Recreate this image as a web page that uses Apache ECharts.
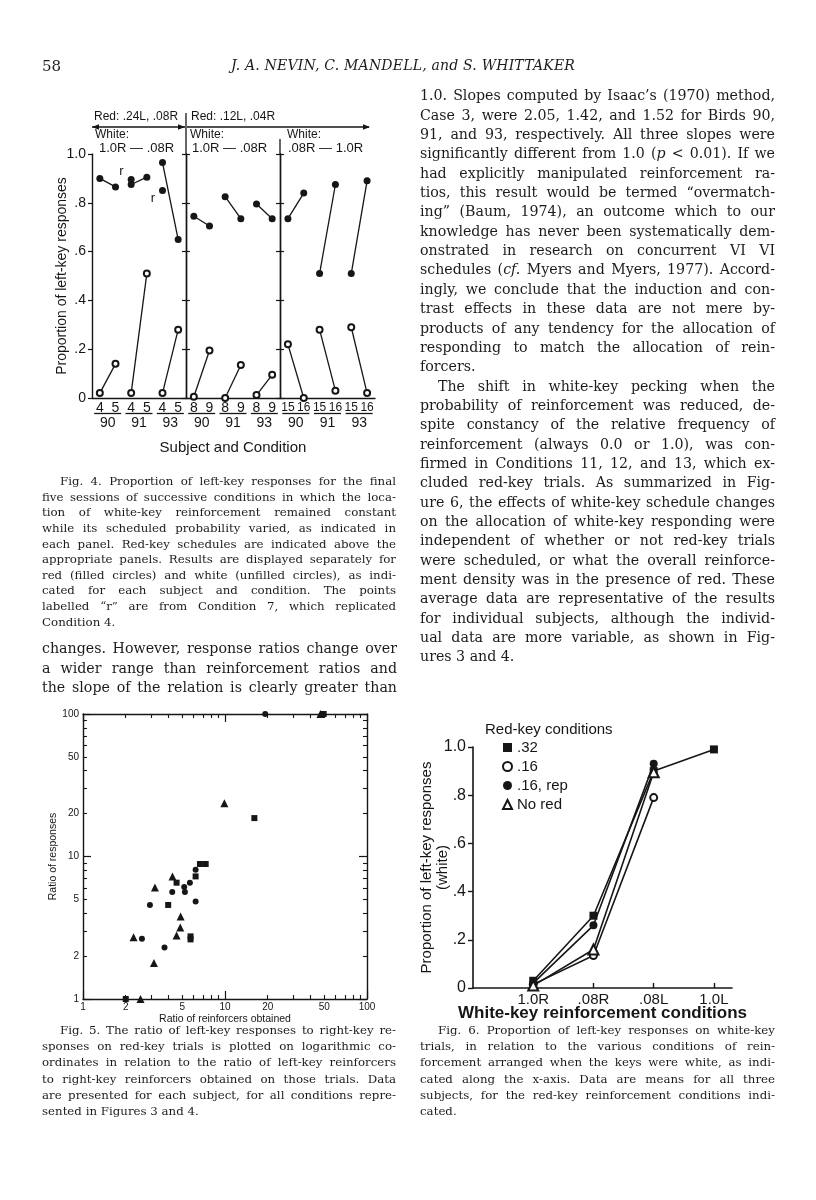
<!DOCTYPE html>
<html><head><meta charset="utf-8">
<script src="https://cdn.jsdelivr.net/npm/echarts@6.0.0/dist/echarts.min.js"></script>
<style>
html,body{margin:0;padding:0;background:#fff;}
#page{position:relative;width:816px;height:1200px;overflow:hidden;background:#fff;}
#chart{position:absolute;left:0;top:0;width:816px;height:1200px;}
.ln{position:absolute;font-family:"DejaVu Serif","Liberation Serif",serif;color:#1c1c1c;text-align:justify;text-align-last:justify;white-space:normal;overflow:visible;}
.ln.last{text-align-last:left;}
</style></head><body><div id="page"><div id="chart"></div></div>
<script>
// ---------------- DATA ----------------
// Fig. 4
const fig4Subjects = ['90', '91', '93'];
const fig4CondsA = ['4', '5', '4', '5', '4', '5'];
const fig4CondsB = ['8', '9', '8', '9', '8', '9'];
const fig4CondsC = ['15', '16', '15', '16', '15', '16'];
const fig4RedA = [0.90, 0.865, 0.875, 0.905, 0.965, 0.65];
const fig4WhiteA = [0.02, 0.14, 0.02, 0.51, 0.02, 0.28];
const fig4RepA = [null, null, 0.895, null, 0.85, null];
const fig4RedB = [0.745, 0.705, 0.825, 0.735, 0.795, 0.735];
const fig4WhiteB = [0.005, 0.195, 0.0, 0.135, 0.012, 0.095];
const fig4RedC = [0.735, 0.84, 0.51, 0.875, 0.51, 0.89];
const fig4WhiteC = [0.22, 0.0, 0.28, 0.03, 0.29, 0.02];
const propTickLabels = ['0', '.2', '.4', '.6', '.8', '1.0'];
// Fig. 5  [ratio of reinforcers, ratio of responses]
const fig5Circles = [[2.60, 2.65], [2.96, 4.57], [3.75, 2.30], [4.25, 5.63], [5.16, 6.11], [5.22, 5.63], [6.21, 4.84], [6.21, 8.08], [5.66, 6.55], [19.2, 100]];
const fig5Squares = [[2.0, 1.0], [3.98, 4.57], [5.72, 2.75], [5.72, 2.62], [6.66, 8.86], [7.31, 8.86], [6.21, 7.25], [16.1, 18.6], [4.56, 6.55], [49.5, 100]];
const fig5Triangles = [[2.27, 2.71], [3.21, 6.07], [3.16, 1.79], [4.27, 7.25], [4.87, 3.80], [4.84, 3.17], [4.56, 2.79], [2.54, 1.0], [9.9, 23.6], [47.0, 100]];
const fig5LabelTicks = [1, 2, 5, 10, 20, 50, 100];
const fig5MajorTicks = [1, 10, 100];
const fig5MinorTicks = [2, 3, 4, 5, 6, 7, 8, 9, 20, 30, 40, 50, 60, 70, 80, 90];
// Fig. 6
const fig6Conditions = ['1.0R', '.08R', '.08L', '1.0L'];
const fig6Names = ['.32', '.16', '.16, rep', 'No red'];
const fig6Red32 = [0.03, 0.30, 0.90, 0.99];
const fig6Red16 = [0.015, 0.135, 0.79, null];
const fig6Red16Rep = [0.02, 0.26, 0.93, null];
const fig6NoRed = [0.01, 0.16, 0.895, null];

// ---------------- CHART ----------------
const SANS = '"Liberation Sans", Arial, sans-serif';
const INK = '#161616';
const chart = echarts.init(document.getElementById('chart'), null, {renderer: 'canvas'});

const grids = [
  {left: 92, top: 154, width: 94, height: 244},
  {left: 186, top: 154, width: 94, height: 244},
  {left: 280, top: 154, width: 95, height: 244},
  {left: 83, top: 714, width: 284, height: 285},
  {left: 473, top: 747, width: 259, height: 241}
];

const xAxes = [];
const yAxes = [];
const series = [];

// Fig 4 panels
const panels = [[fig4CondsA, fig4RedA, fig4WhiteA], [fig4CondsB, fig4RedB, fig4WhiteB], [fig4CondsC, fig4RedC, fig4WhiteC]];
panels.forEach((p, gi) => {
  const xi = xAxes.length;
  xAxes.push({gridIndex: gi, type: 'category', position: 'bottom', data: p[0], boundaryGap: true,
    axisLine: {show: true, onZero: false, lineStyle: {color: INK, width: 1.4}}, axisTick: {show: false},
    axisLabel: {fontSize: gi === 2 ? 12 : 14, color: INK, margin: gi === 2 ? 4 : 3, fontFamily: SANS, interval: 0}});
  xAxes.push({gridIndex: gi, type: 'category', position: 'bottom', data: fig4Subjects, boundaryGap: true,
    axisLine: {show: false}, axisTick: {show: false},
    axisLabel: {margin: 13, interval: 0, formatter: v => '{u| }\n{s|' + v + '}',
      rich: {u: {width: 27, height: 1.3, lineHeight: 5, backgroundColor: INK}, s: {fontSize: 14, lineHeight: 15, color: INK, fontFamily: SANS}}},
    name: gi === 1 ? 'Subject and Condition' : '', nameLocation: 'middle', nameGap: 42, nameMoveOverlap: false,
    nameTextStyle: {fontSize: 15, color: INK, fontFamily: SANS}});
  const yi = yAxes.length;
  if (gi === 0) {
    yAxes.push({gridIndex: 0, type: 'value', position: 'left', min: 0, max: 1, interval: 0.2,
      axisLine: {show: true, lineStyle: {color: INK, width: 1.4}},
      axisTick: {show: true, inside: false, length: 4, lineStyle: {color: INK, width: 1.2}},
      axisLabel: {fontSize: 14, color: INK, margin: 6, fontFamily: SANS, formatter: v => propTickLabels[Math.round(v * 5)]},
      splitLine: {show: false},
      name: 'Proportion of left-key responses', nameLocation: 'middle', nameGap: 23, nameMoveOverlap: false,
      nameTextStyle: {fontSize: 14, color: INK, fontFamily: SANS}});
  } else {
    [false, true].forEach(ins => yAxes.push({gridIndex: gi, type: 'value', position: 'left', min: 0, max: 1, interval: 0.2,
      axisLine: {show: true, lineStyle: {color: INK, width: 1.4}},
      axisTick: {show: true, inside: ins, length: 4, lineStyle: {color: INK, width: 1.2}},
      axisLabel: {show: false}, splitLine: {show: false}}));
  }
  for (let k = 0; k < 3; k++) {
    series.push({type: 'line', xAxisIndex: xi, yAxisIndex: yi, z: 3,
      data: [[2 * k, p[1][2 * k]], [2 * k + 1, p[1][2 * k + 1]]],
      symbol: 'circle', symbolSize: 7, lineStyle: {color: INK, width: 1.3}, itemStyle: {color: INK, opacity: 1}});
    series.push({type: 'line', xAxisIndex: xi, yAxisIndex: yi, z: 4,
      data: [[2 * k, p[2][2 * k]], [2 * k + 1, p[2][2 * k + 1]]],
      symbol: 'emptyCircle', symbolSize: 6, lineStyle: {color: INK, width: 1.3}, itemStyle: {color: INK, borderWidth: 1.2, opacity: 1}});
  }
  if (gi === 0) {
    const repOffsets = [[-2, -8], [-2, 8]];
    const repData = [];
    fig4RepA.forEach((v, i) => { if (v !== null) repData.push({value: [i, v], label: {offset: repOffsets[repData.length]}}); });
    series.push({type: 'scatter', xAxisIndex: xi, yAxisIndex: yi, z: 5, data: repData,
      symbol: 'circle', symbolSize: 7, itemStyle: {color: INK, opacity: 1},
      label: {show: true, formatter: 'r', position: 'left', distance: 2, fontSize: 13, color: INK, fontFamily: SANS}});
  }
});

// Fig 5 log axes
const logBase = {gridIndex: 3, type: 'log', logBase: 10, min: 1, max: 100, splitLine: {show: false}};
const lx = xAxes.length;
xAxes.push(Object.assign({}, logBase, {position: 'bottom',
  axisLine: {show: true, onZero: false, lineStyle: {color: INK, width: 1.4}},
  axisTick: {show: true, inside: true, length: 8, customValues: fig5MajorTicks, lineStyle: {color: INK, width: 1.2}},
  axisLabel: {customValues: fig5LabelTicks, fontSize: 10, color: INK, margin: 3, fontFamily: SANS},
  name: 'Ratio of reinforcers obtained', nameLocation: 'middle', nameGap: 15, nameMoveOverlap: false,
  nameTextStyle: {fontSize: 10.5, color: INK, fontFamily: SANS}}));
xAxes.push(Object.assign({}, logBase, {position: 'bottom', axisLine: {show: false, onZero: false},
  axisTick: {show: true, inside: true, length: 4, customValues: fig5MinorTicks, lineStyle: {color: INK, width: 1.1}},
  axisLabel: {show: false}}));
xAxes.push(Object.assign({}, logBase, {position: 'top',
  axisLine: {show: true, onZero: false, lineStyle: {color: INK, width: 1.4}},
  axisTick: {show: true, inside: true, length: 8, customValues: fig5MajorTicks, lineStyle: {color: INK, width: 1.2}},
  axisLabel: {show: false}}));
xAxes.push(Object.assign({}, logBase, {position: 'top', axisLine: {show: false, onZero: false},
  axisTick: {show: true, inside: true, length: 4, customValues: fig5MinorTicks, lineStyle: {color: INK, width: 1.1}},
  axisLabel: {show: false}}));
const ly = yAxes.length;
yAxes.push(Object.assign({}, logBase, {position: 'left',
  axisLine: {show: true, onZero: false, lineStyle: {color: INK, width: 1.4}},
  axisTick: {show: true, inside: true, length: 8, customValues: fig5MajorTicks, lineStyle: {color: INK, width: 1.2}},
  axisLabel: {customValues: fig5LabelTicks, fontSize: 10, color: INK, margin: 4, fontFamily: SANS},
  name: 'Ratio of responses', nameLocation: 'middle', nameGap: 24, nameMoveOverlap: false,
  nameTextStyle: {fontSize: 10.5, color: INK, fontFamily: SANS}}));
yAxes.push(Object.assign({}, logBase, {position: 'left', axisLine: {show: false, onZero: false},
  axisTick: {show: true, inside: true, length: 4, customValues: fig5MinorTicks, lineStyle: {color: INK, width: 1.1}},
  axisLabel: {show: false}}));
yAxes.push(Object.assign({}, logBase, {position: 'right',
  axisLine: {show: true, onZero: false, lineStyle: {color: INK, width: 1.4}},
  axisTick: {show: true, inside: true, length: 8, customValues: fig5MajorTicks, lineStyle: {color: INK, width: 1.2}},
  axisLabel: {show: false}}));
yAxes.push(Object.assign({}, logBase, {position: 'right', axisLine: {show: false, onZero: false},
  axisTick: {show: true, inside: true, length: 4, customValues: fig5MinorTicks, lineStyle: {color: INK, width: 1.1}},
  axisLabel: {show: false}}));
[[fig5Circles, 'circle', 6], [fig5Squares, 'rect', 6], [fig5Triangles, 'triangle', 8]].forEach(s => {
  series.push({type: 'scatter', xAxisIndex: lx, yAxisIndex: ly, data: s[0], symbol: s[1], symbolSize: s[2],
    itemStyle: {color: INK, opacity: 1}, clip: false, z: 5});
});

// Fig 6
const f6x = xAxes.length;
xAxes.push({gridIndex: 4, type: 'value', position: 'bottom', min: 0, max: 4.3,
  axisLine: {show: true, onZero: false, lineStyle: {color: INK, width: 1.6}},
  axisTick: {show: true, inside: true, length: 5, customValues: [1, 2, 3, 4], lineStyle: {color: INK, width: 1.4}},
  axisLabel: {customValues: [1, 2, 3, 4], formatter: v => fig6Conditions[Math.round(v) - 1], fontSize: 15, color: INK, margin: 4, fontFamily: SANS},
  splitLine: {show: false},
  name: 'White-key reinforcement conditions', nameLocation: 'middle', nameGap: 17, nameMoveOverlap: false,
  nameTextStyle: {fontSize: 17, fontWeight: 'bold', color: INK, fontFamily: SANS}});
const f6y = yAxes.length;
yAxes.push({gridIndex: 4, type: 'value', position: 'left', min: 0, max: 1, interval: 0.2,
  axisLine: {show: true, lineStyle: {color: INK, width: 1.6}},
  axisTick: {show: true, inside: false, length: 5, lineStyle: {color: INK, width: 1.4}},
  axisLabel: {fontSize: 16, color: INK, margin: 7, fontFamily: SANS, formatter: v => propTickLabels[Math.round(v * 5)]},
  splitLine: {show: false},
  name: 'Proportion of left-key responses\n(white)', nameLocation: 'middle', nameGap: 22, nameMoveOverlap: false,
  nameTextStyle: {fontSize: 15, lineHeight: 16, color: INK, fontFamily: SANS}});
const f6Symbols = [['rect', 8], ['emptyCircle', 7], ['circle', 8], ['emptyTriangle', 10]];
[fig6Red32, fig6Red16, fig6Red16Rep, fig6NoRed].forEach((arr, i) => {
  const d = [];
  arr.forEach((v, j) => { if (v !== null) d.push([j + 1, v]); });
  series.push({type: 'line', name: fig6Names[i], xAxisIndex: f6x, yAxisIndex: f6y, data: d,
    symbol: f6Symbols[i][0], symbolSize: f6Symbols[i][1], z: 4 + i,
    lineStyle: {color: INK, width: 1.6}, itemStyle: {color: INK, borderWidth: 1.4, opacity: 1}});
});

// Fig 4 annotations above panels
function txt(x, y, s, size) {
  return {type: 'text', x: x, y: y, z: 10, style: {text: s, font: size + 'px ' + SANS, fill: INK, align: 'left', verticalAlign: 'middle'}};
}
function seg(x1, y1, x2, y2) {
  return {type: 'line', z: 10, shape: {x1: x1, y1: y1, x2: x2, y2: y2}, style: {stroke: INK, lineWidth: 1.3}};
}
function head(x, y, dir) {
  return {type: 'polygon', z: 10, shape: {points: [[x, y], [x - 7 * dir, y - 2.8], [x - 7 * dir, y + 2.8]]}, style: {fill: INK}};
}
const graphics = [
  txt(94, 117, 'Red: .24L, .08R', 12),
  txt(191, 117, 'Red: .12L, .04R', 12),
  seg(92, 127, 185, 127), head(92, 127, -1), head(185, 127, 1),
  seg(187, 127, 369, 127), head(370, 127, 1),
  seg(186, 113, 186, 154), seg(280, 139, 280, 154),
  txt(95, 135, 'White:', 12), txt(190, 135, 'White:', 12), txt(287, 135, 'White:', 12),
  txt(99, 148, '1.0R \u2014 .08R', 13), txt(192, 148, '1.0R \u2014 .08R', 13), txt(288, 148, '.08R \u2014 1.0R', 13)
];

chart.setOption({
  animation: false,
  textStyle: {fontFamily: SANS, color: INK},
  grid: grids,
  xAxis: xAxes,
  yAxis: yAxes,
  series: series,
  title: [{text: 'Red-key conditions', left: 480, top: 717, textStyle: {fontSize: 15, fontWeight: 'normal', color: INK, fontFamily: SANS}}],
  legend: {orient: 'vertical', left: 497, top: 735, itemWidth: 9, itemHeight: 9, itemGap: 4,
    textStyle: {fontSize: 15, color: INK, fontFamily: SANS},
    data: [{name: '.32', icon: 'rect'}, {name: '.16', icon: 'emptyCircle'}, {name: '.16, rep', icon: 'circle'}, {name: 'No red', icon: 'emptyTriangle'}]},
  graphic: graphics
});

// ---------------- TEXT ----------------
const page = document.getElementById('page');
const measureCtx = document.createElement('canvas').getContext('2d');
function textWidth(html, fs) {
  measureCtx.font = fs + 'px "DejaVu Serif"';
  const plain = html.replace(/<[^>]+>/g, '').replace(/&lt;/g, '<').replace(/&gt;/g, '>').replace(/&amp;/g, '&');
  return measureCtx.measureText(plain).width;
}
function block(lines, left, firstCenter, width, lh, fs, lastIdx, indent) {
  lines.forEach((t, i) => {
    const d = document.createElement('div');
    d.className = 'ln' + (lastIdx.indexOf(i) >= 0 ? ' last' : '');
    const ind = (indent && indent.indexOf(i) >= 0) ? 18 : 0;
    const avail = width - ind;
    let f = fs;
    const w = textWidth(t, f);
    if (w > avail * 0.985) f = f * avail * 0.985 / w;
    d.style.left = (left + ind) + 'px';
    d.style.width = avail + 'px';
    d.style.top = (firstCenter + i * lh - lh / 2) + 'px';
    d.style.height = lh + 'px';
    d.style.lineHeight = lh + 'px';
    d.style.fontSize = f + 'px';
    d.innerHTML = t;
    page.appendChild(d);
  });
}
// running head
const h1 = document.createElement('div');
h1.style.cssText = 'position:absolute;left:42px;top:57px;font:15px "DejaVu Serif",serif;color:#1c1c1c;';
h1.textContent = '58';
page.appendChild(h1);
const h2 = document.createElement('div');
h2.style.cssText = 'position:absolute;left:200px;width:406px;top:57px;text-align:center;font:italic 14px "DejaVu Serif",serif;letter-spacing:0.2px;color:#1c1c1c;';
h2.textContent = 'J. A. NEVIN, C. MANDELL, and S. WHITTAKER';
page.appendChild(h2);

const rightCol = [
  '1.0. Slopes computed by Isaac\u2019s (1970) method,',
  'Case 3, were 2.05, 1.42, and 1.52 for Birds 90,',
  '91, and 93, respectively. All three slopes were',
  'significantly different from 1.0 (<i>p</i> &lt; 0.01). If we',
  'had explicitly manipulated reinforcement ra-',
  'tios, this result would be termed \u201covermatch-',
  'ing\u201d (Baum, 1974), an outcome which to our',
  'knowledge has never been systematically dem-',
  'onstrated in research on concurrent VI VI',
  'schedules (<i>cf.</i> Myers and Myers, 1977). Accord-',
  'ingly, we conclude that the induction and con-',
  'trast effects in these data are not mere by-',
  'products of any tendency for the allocation of',
  'responding to match the allocation of rein-',
  'forcers.',
  'The shift in white-key pecking when the',
  'probability of reinforcement was reduced, de-',
  'spite constancy of the relative frequency of',
  'reinforcement (always 0.0 or 1.0), was con-',
  'firmed in Conditions 11, 12, and 13, which ex-',
  'cluded red-key trials. As summarized in Fig-',
  'ure 6, the effects of white-key schedule changes',
  'on the allocation of white-key responding were',
  'independent of whether or not red-key trials',
  'were scheduled, or what the overall reinforce-',
  'ment density was in the presence of red. These',
  'average data are representative of the results',
  'for individual subjects, although the individ-',
  'ual data are more variable, as shown in Fig-',
  'ures 3 and 4.'
];
block(rightCol, 420, 96, 355, 19.35, 14.2, [14, 29], [15]);

const leftBody = [
  'changes. However, response ratios change over',
  'a wider range than reinforcement ratios and',
  'the slope of the relation is clearly greater than'
];
block(leftBody, 42, 649, 355, 19.5, 14.2, [], []);

const cap4 = [
  'Fig. 4. Proportion of left-key responses for the final',
  'five sessions of successive conditions in which the loca-',
  'tion of white-key reinforcement remained constant',
  'while its scheduled probability varied, as indicated in',
  'each panel. Red-key schedules are indicated above the',
  'appropriate panels. Results are displayed separately for',
  'red (filled circles) and white (unfilled circles), as indi-',
  'cated for each subject and condition. The points',
  'labelled \u201cr\u201d are from Condition 7, which replicated',
  'Condition 4.'
];
block(cap4, 42, 482, 354, 15.6, 11.8, [9], [0]);

const cap5 = [
  'Fig. 5. The ratio of left-key responses to right-key re-',
  'sponses on red-key trials is plotted on logarithmic co-',
  'ordinates in relation to the ratio of left-key reinforcers',
  'to right-key reinforcers obtained on those trials. Data',
  'are presented for each subject, for all conditions repre-',
  'sented in Figures 3 and 4.'
];
block(cap5, 42, 1030, 354, 16.2, 11.8, [5], [0]);

const cap6 = [
  'Fig. 6. Proportion of left-key responses on white-key',
  'trials, in relation to the various conditions of rein-',
  'forcement arranged when the keys were white, as indi-',
  'cated along the x-axis. Data are means for all three',
  'subjects, for the red-key reinforcement conditions indi-',
  'cated.'
];
block(cap6, 420, 1030, 355, 16.2, 11.8, [5], [0]);
</script></body></html>
